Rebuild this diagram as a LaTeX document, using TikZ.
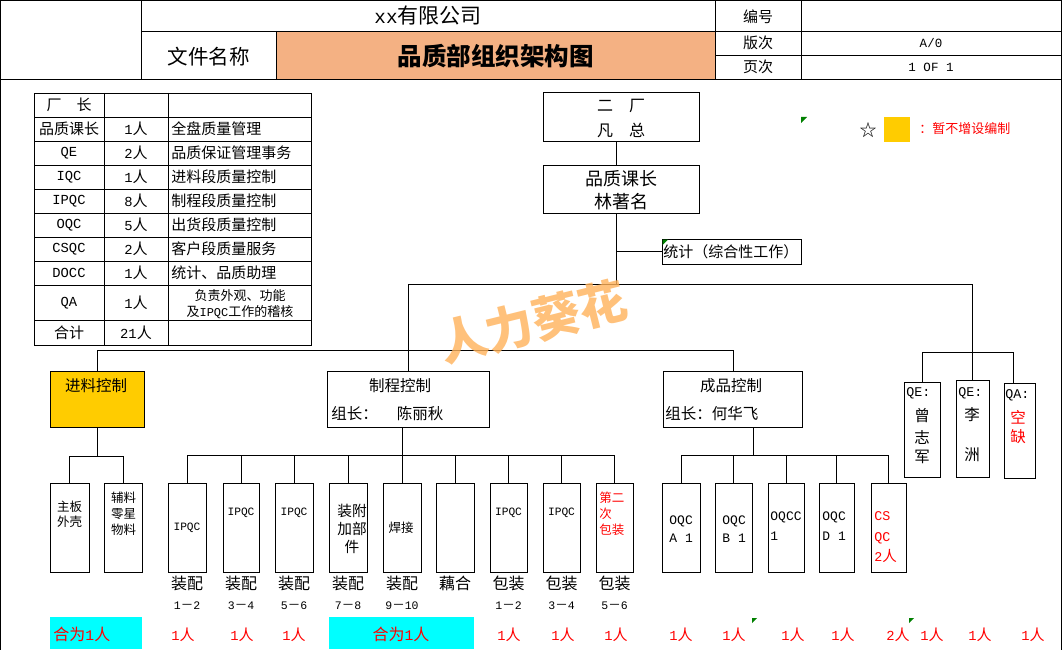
\documentclass[tikz,border=0pt]{standalone}
\usepackage{tikz}
\usepackage{fontspec}
\setmainfont{Noto Sans CJK SC}
\newfontfamily\mofont[Scale=0.92]{Liberation Mono}
\newcommand\m[1]{{\mofont #1}}
\newcommand\fs[2]{\fontsize{#1}{#2}\selectfont}
\definecolor{titleor}{RGB}{244,177,131}
\definecolor{yelbox}{RGB}{255,204,0}
\definecolor{cybox}{RGB}{0,255,255}
\definecolor{wmark}{RGB}{255,178,90}
\definecolor{cmtgreen}{RGB}{0,128,0}
\definecolor{redtxt}{RGB}{255,0,0}
\begin{document}
\begin{tikzpicture}[x=1pt,y=-1pt,line width=0.9pt,
  bx/.style={draw,inner sep=0pt,anchor=center},
  tx/.style={inner sep=0pt,anchor=center},
  txw/.style={inner sep=0pt,anchor=west},
  rd/.style={text=redtxt},
  cmark/.style={fill=cmtgreen,draw=none}]
\useasboundingbox (0,0) rectangle (1063,650);
\fill[white] (0,0) rectangle (1063,650);

% ---------- header ----------
\fill[titleor] (276,31) rectangle (715,79);
\draw (0.5,0) -- (0.5,650);
\draw (1061,0) -- (1061,650);
\draw (0,0.5) -- (1061,0.5);
\draw (0,79) -- (1061,79);
\draw (141,0) -- (141,79);
\draw (141,31) -- (1061,31);
\draw (276,31) -- (276,79);
\draw (715,0) -- (715,79);
\draw (801,0) -- (801,79);
\draw (715,55) -- (1061,55);
\node[tx,font=\fs{21}{21}] (hco) at (428,16) {\m{xx}有限公司};
\node[tx,font=\fs{20.5}{20.5}] (hfn) at (208.5,57) {文件名称};
\node[tx,font=\fs{24.5}{24.5}\bfseries] (httl) at (495.5,56) {品质部组织架构图};
\node[tx,font=\fs{15}{15}] (hno) at (758,17) {编号};
\node[tx,font=\fs{15}{15}] (hver) at (758,43) {版次};
\node[tx,font=\fs{15}{15}] (hpg) at (758,67) {页次};
\node[tx,font=\fs{13.6}{13.6}] (hverv) at (931,43) {\m{A/0}};
\node[tx,font=\fs{13.6}{13.6}] (hpgv) at (931,67) {\m{1 OF 1}};

% ---------- staff table ----------
\draw (34,93) rectangle (311,345);
\foreach \yy in {117,141,165,189,213,237,261,285,320} \draw (34,\yy) -- (311,\yy);
\draw (104,93) -- (104,345);
\draw (168,93) -- (168,345);
\begin{scope}[every node/.style={font=\fs{15}{15}}]
\node[tx] (t1a) at (69,105) {厂　长};
\node[tx] (t2a) at (69,129) {品质课长};
\node[tx] (t2b) at (136,129) {\m{1}人};
\node[txw] (t2c) at (171,129) {全盘质量管理};
\node[tx] (t3a) at (69,153) {\m{QE}};
\node[tx] (t3b) at (136,153) {\m{2}人};
\node[txw] (t3c) at (171,153) {品质保证管理事务};
\node[tx] (t4a) at (69,177) {\m{IQC}};
\node[tx] (t4b) at (136,177) {\m{1}人};
\node[txw] (t4c) at (171,177) {进料段质量控制};
\node[tx] (t5a) at (69,201) {\m{IPQC}};
\node[tx] (t5b) at (136,201) {\m{8}人};
\node[txw] (t5c) at (171,201) {制程段质量控制};
\node[tx] (t6a) at (69,225) {\m{OQC}};
\node[tx] (t6b) at (136,225) {\m{5}人};
\node[txw] (t6c) at (171,225) {出货段质量控制};
\node[tx] (t7a) at (69,249) {\m{CSQC}};
\node[tx] (t7b) at (136,249) {\m{2}人};
\node[txw] (t7c) at (171,249) {客户段质量服务};
\node[tx] (t8a) at (69,273) {\m{DOCC}};
\node[tx] (t8b) at (136,273) {\m{1}人};
\node[txw] (t8c) at (171,273) {统计、品质助理};
\node[tx] (t9a) at (69,303) {\m{QA}};
\node[tx] (t9b) at (136,303) {\m{1}人};
\node[tx] (t10a) at (69,333) {合计};
\node[tx] (t10b) at (136,333) {\m{21}人};
\end{scope}
\node[tx,font=\fs{13}{16}] (t9c1) at (240,296) {负责外观、功能};
\node[tx,font=\fs{13}{16}] (t9c2) at (240,312) {及\m{IPQC}工作的稽核};

% ---------- legend ----------
\node[tx,font=\fs{17}{17}] (star) at (868,130) {☆};
\node[bx,fill=yelbox,draw=none,minimum width=26pt,minimum height=25pt] (lgsq) at (897,129.5) {};
\node[txw,rd,font=\fs{13}{13}] (lgtx) at (919,129) {：暂不增设编制};

% ---------- top boxes ----------
\node[bx,minimum width=156pt,minimum height=49pt] (plant) at (621,116.5) {};
\node[tx,font=\fs{16}{16}] (plant1) at (621,106) {二　厂};
\node[tx,font=\fs{16}{16}] (plant2) at (621,130) {凡　总};
\node[bx,minimum width=156pt,minimum height=48pt] (mgr) at (621,189.5) {};
\node[tx,font=\fs{18}{18}] (mgr1) at (621,179) {品质课长};
\node[tx,font=\fs{18}{18}] (mgr2) at (621,202) {林著名};
\node[bx,minimum width=139pt,minimum height=25pt] (stat) at (731.5,251.5) {};
\node[txw,font=\fs{15}{15}] (statt) at (663,252) {统计（综合性工作）};

\coordinate (bus1) at (0,284);
\coordinate (bus2) at (0,350);
\coordinate (bus3) at (0,352);
\coordinate (busL) at (0,456);
\coordinate (busM) at (0,455);

\draw ([xshift=-5pt]plant.south) -- ([xshift=-5pt]mgr.north);
\coordinate (mv) at ([xshift=-5pt]mgr.south);
\draw (mv) -- (mv |- bus1);
\draw (mv |- stat.west) -- (stat.west);

% ---------- second level ----------
\node[bx,fill=yelbox,minimum width=94pt,minimum height=56pt] (jin) at (97,399) {};
\node[tx,font=\fs{15.5}{15.5}] (jint) at (96,386) {进料控制};
\node[bx,minimum width=162pt,minimum height=56pt] (zhi) at (408,399) {};
\node[tx,font=\fs{15.5}{15.5}] (zhit) at (400,386) {制程控制};
\node[txw,font=\fs{15.5}{15.5}] (zhil) at (331,414) {组长：\hspace{19pt}陈丽秋};
\node[bx,minimum width=139pt,minimum height=56pt] (cp) at (733,399) {};
\node[tx,font=\fs{15.5}{15.5}] (cpt) at (731,386) {成品控制};
\node[txw,font=\fs{15.5}{15.5}] (cpl) at (665,414) {组长：何华飞};

\node[bx,minimum width=36pt,minimum height=95pt] (qe1) at (922,429.5) {};
\node[bx,minimum width=33pt,minimum height=97pt] (qe2) at (972.5,428.5) {};
\node[bx,minimum width=31pt,minimum height=95pt] (qa) at (1019.5,430.5) {};
\begin{scope}[every node/.style={font=\fs{15.5}{15.5}}]
\node[txw,font=\fs{14.5}{14.5}] (qe1a) at (906,393) {\m{QE:}};
\node[tx] (qe1b) at (922,416) {曾};
\node[tx] (qe1c) at (922,437) {志};
\node[tx] (qe1d) at (922,457) {军};
\node[txw,font=\fs{14.5}{14.5}] (qe2a) at (958,393) {\m{QE:}};
\node[tx] (qe2b) at (972,415) {李};
\node[tx] (qe2c) at (972,455) {洲};
\node[txw,font=\fs{14.5}{14.5}] (qaa) at (1005,395) {\m{QA:}};
\node[tx,rd] (qab) at (1018,417) {空};
\node[tx,rd] (qac) at (1018,437) {缺};
\end{scope}

\draw (zhi.north |- bus1) -- (qe2.north |- bus1);
\draw (zhi.north |- bus1) -- (zhi.north);
\draw (jin.north) -- (jin.north |- bus2) -- (cp.north |- bus2) -- (cp.north);
\draw (qe2.north |- bus1) -- (qe2.north);
\coordinate (qat) at ([xshift=-6.5pt]qa.north);
\draw (qe1.north) -- (qe1.north |- bus3) -- (qat |- bus3) -- (qat);

% ---------- bottom boxes ----------
\foreach \n/\cx/\w in {b1/69.5/39,b2/123.5/38,p1/187/38,p2/241/36,p3/294/38,p4/348/38,p5/402/38,p6/455/38,p7/508.5/37,p8/561.5/37,p9/614.5/37,o1/681/38,o2/733.5/37,o3/786/36,o4/836.5/35,o5/888.5/35}
  \node[bx,minimum width=\w pt,minimum height=89pt] (\n) at (\cx,527.5) {};

\draw (jin.south) -- (jin.south |- busL);
\draw (b1.north) -- (b1.north |- busL) -- (b2.north |- busL) -- (b2.north);
\draw (p1.north) -- (p1.north |- busM) -- (p9.north |- busM) -- (p9.north);
\foreach \n in {p2,p3,p4,p6,p7,p8} \draw (\n.north) -- (\n.north |- busM);
\draw (p5.north |- zhi.south) -- (p5.north);
\coordinate (cpo) at ([xshift=20pt]cp.south);
\draw (cpo) -- (cpo |- busM);
\draw (o1.north) -- (o1.north |- busM) -- (o5.north |- busM) -- (o5.north);
\foreach \n in {o2,o3,o4} \draw (\n.north) -- (\n.north |- busM);

% texts in bottom boxes
\node[tx,font=\fs{12.5}{15},align=center] (b1t) at (69.5,514.5) {主板\\外壳};
\node[tx,font=\fs{12.5}{16},align=center] (b2t) at (123.5,514) {辅料\\零星\\物料};
\node[tx,font=\fs{12.2}{12.2}] (p1t) at (187,528) {\m{IPQC}};
\node[tx,font=\fs{12.2}{12.2}] (p2t) at (241,513) {\m{IPQC}};
\node[tx,font=\fs{12.2}{12.2}] (p3t) at (294,513) {\m{IPQC}};
\node[tx,font=\fs{14.7}{18},align=center] (p4t) at (352,529) {装附\\加部\\件};
\node[tx,font=\fs{12.5}{12.5}] (p5t) at (401,528) {焊接};
\node[tx,font=\fs{12.2}{12.2}] (p7t) at (508.5,513) {\m{IPQC}};
\node[tx,font=\fs{12.2}{12.2}] (p8t) at (561.5,513) {\m{IPQC}};
\node[txw,rd,font=\fs{12.5}{16},align=left] (p9t) at (599,514) {第二\\次\\包装};
\node[txw,font=\fs{14.1}{18},align=left] (o1t) at (669,529) {\m{OQC}\\\m{A 1}};
\node[txw,font=\fs{14.1}{18},align=left] (o2t) at (722,529) {\m{OQC}\\\m{B 1}};
\node[txw,font=\fs{14.1}{20},align=left] (o3t) at (770,526) {\m{OQCC}\\\m{1}};
\node[txw,font=\fs{14.1}{20},align=left] (o4t) at (822,526) {\m{OQC}\\\m{D 1}};
\node[txw,rd,font=\fs{14.5}{20.5},align=left] (o5t) at (874,537.5) {\m{CS}\\\m{QC}\\\m{2}人};

% labels under boxes
\begin{scope}[every node/.style={font=\fs{16}{16}}]
\node[tx] (l1) at (187,583) {装配};
\node[tx] (l2) at (241,583) {装配};
\node[tx] (l3) at (294,583) {装配};
\node[tx] (l4) at (348,583) {装配};
\node[tx] (l5) at (402,583) {装配};
\node[tx] (l6) at (455,583) {藕合};
\node[tx] (l7) at (508.5,583) {包装};
\node[tx] (l8) at (561.5,583) {包装};
\node[tx] (l9) at (614.5,583) {包装};
\end{scope}
\begin{scope}[every node/.style={font=\fs{12.5}{12.5}}]
\node[tx] (n1) at (187,606) {\m{1}－\m{2}};
\node[tx] (n2) at (241,606) {\m{3}－\m{4}};
\node[tx] (n3) at (294,606) {\m{5}－\m{6}};
\node[tx] (n4) at (348,606) {\m{7}－\m{8}};
\node[tx] (n5) at (402,606) {\m{9}－\m{10}};
\node[tx] (n7) at (508.5,606) {\m{1}－\m{2}};
\node[tx] (n8) at (561.5,606) {\m{3}－\m{4}};
\node[tx] (n9) at (614.5,606) {\m{5}－\m{6}};
\end{scope}

% bottom staffing row
\node[bx,fill=cybox,draw=none,minimum width=92pt,minimum height=32pt] (cy1) at (96,633) {};
\node[txw,rd,font=\fs{16}{16}] (cy1t) at (53,634) {合为\m{1}人};
\node[bx,fill=cybox,draw=none,minimum width=145pt,minimum height=32pt] (cy2) at (401.5,633) {};
\node[tx,rd,font=\fs{16}{16}] (cy2t) at (401,634) {合为\m{1}人};
\foreach \xx [count=\i] in {183,242,294,509,563,616,681,734,793,843,932,980,1033}
  \node[tx,rd,font=\fs{15}{15}] (one\i) at (\xx,635) {\m{1}人};
\node[tx,rd,font=\fs{15}{15}] (two) at (898,635) {\m{2}人};

% comment markers
\fill[cmark] (801,117) -- (807,117) -- (801,123) -- cycle;
\fill[cmark] (662.5,239.5) -- (668,239.5) -- (662.5,245) -- cycle;
\fill[cmark] (752,618) -- (757,618) -- (752,623) -- cycle;
\fill[cmark] (909,618) -- (914,618) -- (909,623) -- cycle;

% watermark
\node[tx,rotate=14,text=wmark,opacity=0.8,font=\fs{48}{48}\bfseries] (wm) at (533,322) {人力葵花};
\end{tikzpicture}
\end{document}
